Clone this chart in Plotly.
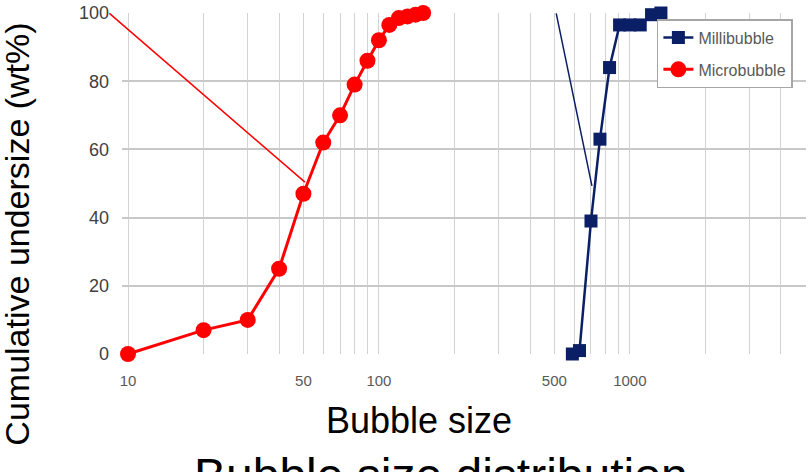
import math
import plotly.graph_objects as go

# ---- data ----
micro_size = [10, 20, 30, 40, 50, 60, 70, 80, 90, 100, 110, 120, 130, 140, 150]
micro_cum = [0, 7, 10, 25, 47, 62, 70, 79, 86, 92, 96.5, 98.5, 99, 99.5, 100]

milli_size = [590, 630, 700, 760, 830, 910, 1000, 1100, 1220, 1330]
milli_cum = [0, 1, 39, 63, 84, 96.5, 96.5, 96.5, 99.5, 100]

x_tickvals = [10, 50, 100, 500, 1000]
x_ticktext = ["10", "50", "100", "500", "1000"]
y_tickvals = [0, 20, 40, 60, 80, 100]

minor_vals = [m * d for d in (10, 100, 1000) for m in range(1, 10) if m * d <= 5000]

RED = "#ff0000"
NAVY = "#0b1f66"
FONT = "Liberation Sans, Arial, sans-serif"
TICKFONT = "Liberation Sans Narrow, Arial Narrow, Liberation Sans, sans-serif"

fig = go.Figure()
fig.add_trace(go.Scatter(
    x=milli_size, y=milli_cum, name="Millibubble", mode="lines+markers",
    line=dict(color=NAVY, width=2.5),
    marker=dict(symbol="square", size=13, color=NAVY),
    cliponaxis=False, legendgroup="a"))
fig.add_trace(go.Scatter(
    x=micro_size, y=micro_cum, name="Microbubble", mode="lines+markers",
    line=dict(color=RED, width=3),
    marker=dict(symbol="circle", size=16, color=RED),
    cliponaxis=False, legendgroup="b"))

fig.update_layout(
    width=808, height=472,
    margin=dict(l=122, r=2, t=13, b=118),
    paper_bgcolor="white", plot_bgcolor="white",
    font=dict(family=FONT, color="black"),
    showlegend=True,
    legend=dict(x=0.782, y=0.982, xanchor="left", yanchor="top",
                bgcolor="white", bordercolor="#a6a6a6", borderwidth=1.5,
                font=dict(family=FONT, size=16, color="#595959"),
                traceorder="grouped", tracegroupgap=8, itemwidth=30),
    xaxis=dict(type="log", range=[0.976, 3.702],
               tickmode="array", tickvals=x_tickvals, ticktext=x_ticktext,
               tickfont=dict(family=TICKFONT, size=15, color="#595959"),
               showgrid=True, gridcolor="#d3d3d3", gridwidth=1,
               minor=dict(tickmode="array", tickvals=minor_vals, showgrid=True,
                          gridcolor="#d3d3d3", gridwidth=1),
               showline=False, zeroline=False, ticks="", ticklabelstandoff=16),
    yaxis=dict(range=[0, 100], tickmode="array", tickvals=y_tickvals,
               tickfont=dict(family=TICKFONT, size=18, color="#404040"),
               showgrid=True, gridcolor="#c8c8c8", gridwidth=2,
               showline=False, zeroline=False, ticks="", ticklabelstandoff=12),
)

# axis titles and main title as annotations
fig.add_annotation(text="Bubble size", xref="paper", yref="paper",
                   x=0.434, y=-0.196, xanchor="center", yanchor="middle",
                   showarrow=False, font=dict(family=FONT, size=36, color="black"))
fig.add_annotation(text="Cumulative undersize (wt%)", xref="paper", yref="paper",
                   x=-0.154, y=0.352, xanchor="center", yanchor="middle",
                   textangle=-90, showarrow=False,
                   font=dict(family=FONT, size=34, color="black"))
fig.add_annotation(text="Bubble size distribution", xref="paper", yref="paper",
                   x=0.466, y=-0.355, xanchor="center", yanchor="middle",
                   showarrow=False, font=dict(family=FONT, size=48, color="black"))

# pointer lines
fig.add_annotation(x=math.log10(50.7), y=50.4, xref="x", yref="y", text="",
                   showarrow=True, arrowhead=0, arrowwidth=1.5, arrowcolor=RED,
                   ax=-197, ay=-170, standoff=0, startstandoff=0)
fig.add_annotation(x=math.log10(706), y=49.3, xref="x", yref="y", text="",
                   showarrow=True, arrowhead=0, arrowwidth=1.5, arrowcolor=NAVY,
                   ax=-36, ay=-174, standoff=0, startstandoff=0)

fig.write_html("out.html")
